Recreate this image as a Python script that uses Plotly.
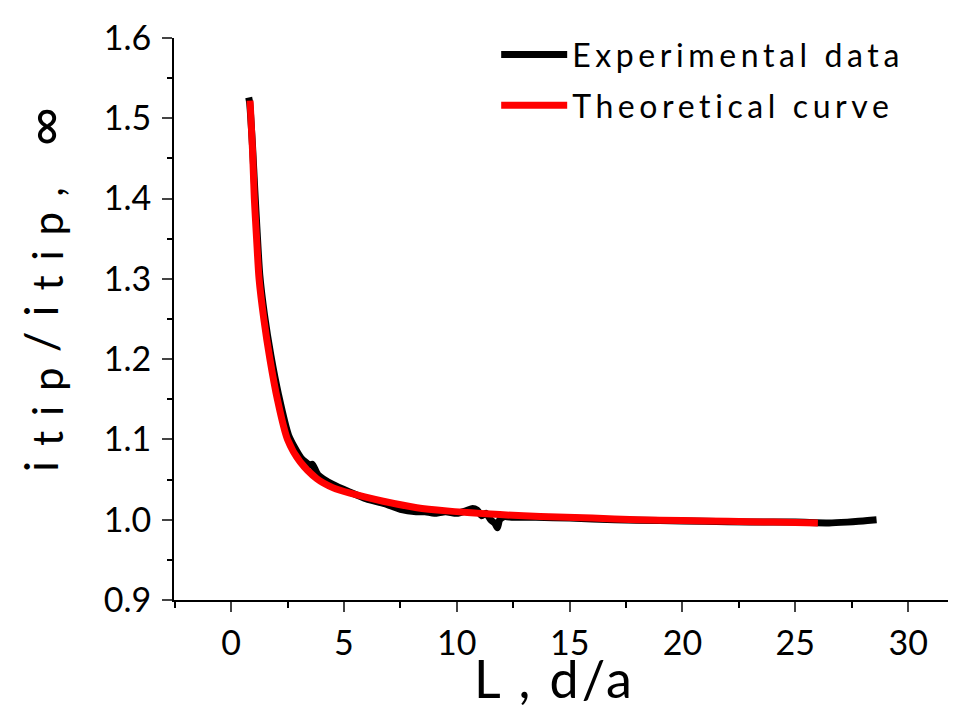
import plotly.graph_objects as go

exp_x = [0.78, 0.82, 0.95, 1.05, 1.15, 1.27, 1.48, 1.76, 2.1, 2.55, 3.1, 3.5, 3.6, 3.85,
         4.5, 5.3, 6.0, 6.8, 7.5, 8.2, 8.6, 9.0, 9.5, 10.0, 10.4, 10.7, 10.9, 11.1, 11.3,
         11.5, 11.7, 11.8, 11.9, 12.1, 12.5, 13.5, 15, 17, 19, 21, 23, 25, 26.5, 27.3,
         27.8, 28.2, 28.6]
exp_y = [1.526, 1.52, 1.465, 1.41, 1.36, 1.305, 1.255, 1.205, 1.156, 1.105, 1.077, 1.068,
         1.069, 1.056, 1.044, 1.034, 1.026, 1.020, 1.013, 1.010, 1.010, 1.008, 1.010, 1.008,
         1.011, 1.014, 1.012, 1.005, 1.008, 1.000, 0.995, 0.990, 1.000, 1.004, 1.003, 1.003,
         1.002, 1.000, 0.999, 0.998, 0.997, 0.997, 0.996, 0.997, 0.998, 0.999, 1.000]

# Theoretical curve
th_x = [0.84, 0.95, 1.03, 1.13, 1.24, 1.45, 1.72, 2.05, 2.5, 3.06, 3.8, 4.5, 5.27, 6.74,
        8.23, 9.56, 11.5, 13.7, 16, 18, 20, 22, 24, 26]
th_y = [1.522, 1.46, 1.40, 1.35, 1.30, 1.25, 1.20, 1.15, 1.10, 1.072, 1.051, 1.040, 1.033,
        1.023, 1.015, 1.011, 1.007, 1.004, 1.002, 1.000, 0.999, 0.998, 0.997, 0.996]

x_ticks = [0, 5, 10, 15, 20, 25, 30]
y_ticks = [0.9, 1.0, 1.1, 1.2, 1.3, 1.4, 1.5, 1.6]
y_tick_text = ["0.9", "1.0", "1.1", "1.2", "1.3", "1.4", "1.5", "1.6"]

FONT = "Lato"


def spaced(text, px):
    return "<span style='letter-spacing:%spx'>%s</span>" % (px, text)


def low(text, size):
    return ("<span style='font-size:%dpx;baseline-shift:-5px;letter-spacing:15px'>%s</span>"
            % (size, text))


fig = go.Figure()
fig.add_trace(go.Scatter(x=exp_x, y=exp_y, mode="lines", name=spaced("Experimental data", 4.6),
                         line=dict(color="black", width=7, shape="spline", smoothing=0.6),
                         legendgroup="a"))
fig.add_trace(go.Scatter(x=th_x, y=th_y, mode="lines", name=spaced("Theoretical curve", 4.6),
                         line=dict(color="#ff0000", width=7, shape="spline", smoothing=0.8),
                         legendgroup="b"))

y_title = (spaced("i", 15) + low("tip", 42) + spaced("/i", 15) + low("tip, ", 42)
           + low("∞", 54))

fig.update_layout(
    width=956, height=717,
    margin=dict(l=166, r=8, t=22, b=125),
    paper_bgcolor="white", plot_bgcolor="white",
    font=dict(family=FONT, color="black", size=34),
    showlegend=True,
    legend=dict(x=0.412, y=1.019, xanchor="left", yanchor="top",
                bgcolor="rgba(0,0,0,0)", font=dict(size=32, family=FONT),
                itemwidth=66, tracegroupgap=6),
    xaxis=dict(range=[-2.53, 32.12], tickvals=x_ticks, ticks="outside", ticklen=10,
               tickwidth=2, showline=True, linewidth=2, linecolor="black",
               showgrid=False, zeroline=False, tickfont=dict(size=34),
               ticklabelstandoff=2,
               minor=dict(dtick=2.5, tick0=0, ticks="outside", ticklen=6, tickwidth=2,
                          tickcolor="black")),
    yaxis=dict(range=[0.9, 1.6], tickvals=y_ticks, ticktext=y_tick_text, ticks="outside",
               ticklen=10, tickwidth=2, showline=True, linewidth=2, linecolor="black",
               showgrid=False, zeroline=False, tickfont=dict(size=34),
               ticklabelstandoff=4, ticklabeloverflow="allow",
               minor=dict(dtick=0.05, tick0=0.9, ticks="outside", ticklen=5, tickwidth=2,
                          tickcolor="black")),
    annotations=[
        dict(text=spaced("L , d/a", 3), xref="paper", yref="paper", x=0.486, y=-0.139,
             xanchor="center", yanchor="middle", showarrow=False,
             font=dict(size=52, family=FONT)),
        dict(text=y_title,
             xref="paper", yref="paper", x=-0.168, y=0.565, textangle=-90,
             xanchor="center", yanchor="middle", showarrow=False,
             font=dict(size=46, family=FONT)),
    ],
)

fig.write_html("out.html")
